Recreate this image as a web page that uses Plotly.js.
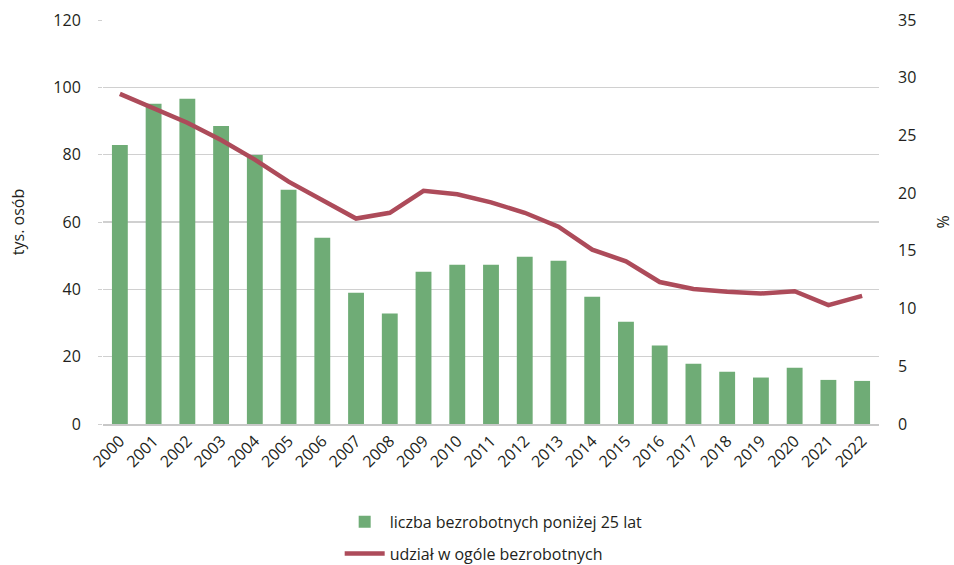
<!DOCTYPE html>
<html>
<head>
<meta charset="utf-8">
<script src="https://cdn.plot.ly/plotly-3.0.1.min.js"></script>
<style>
  html, body { margin: 0; padding: 0; background: #fff; }
  #chart { width: 954px; height: 565px; }
</style>
</head>
<body>
<div id="chart"></div>
<script>
// Bezrobotni poniżej 25 lat: liczba (tys. osób) i udział w ogóle bezrobotnych (%)
const years = ['2000','2001','2002','2003','2004','2005','2006','2007','2008','2009','2010',
               '2011','2012','2013','2014','2015','2016','2017','2018','2019','2020','2021','2022'];

const unemployedUnder25 = [82.9, 95.1, 96.6, 88.5, 79.9, 69.6, 55.3, 39.0, 32.8, 45.2, 47.3,
                           47.3, 49.7, 48.5, 37.8, 30.4, 23.3, 17.9, 15.5, 13.8, 16.7, 13.1, 12.8];

const shareOfTotal = [28.6, 27.4, 26.1, 24.6, 22.9, 21.0, 19.4, 17.8, 18.3, 20.2, 19.9,
                      19.2, 18.3, 17.1, 15.1, 14.1, 12.3, 11.7, 11.45, 11.3, 11.5, 10.3, 11.1];

const GREEN = '#6fac76';
const RED = '#ad4b5a';
const FONT = '"Open Sans", "Noto Sans", sans-serif';

const bars = {
  x: years,
  y: unemployedUnder25,
  type: 'bar',
  name: 'liczba bezrobotnych poniżej 25 lat',
  marker: { color: GREEN },
  legendgroup: 'a',
  yaxis: 'y'
};

const line = {
  x: years,
  y: shareOfTotal,
  type: 'scatter',
  mode: 'lines',
  name: 'udział w ogóle bezrobotnych',
  line: { color: RED, width: 4.5 },
  legendgroup: 'b',
  yaxis: 'y2'
};

const layout = {
  width: 954,
  height: 565,
  margin: { l: 103, r: 75, t: 20, b: 141, autoexpand: false },
  paper_bgcolor: '#fff',
  plot_bgcolor: '#fff',
  font: { family: FONT, size: 16, color: '#231f20' },
  bargap: 0.53,
  showlegend: true,
  legend: {
    orientation: 'v',
    x: 0.305,
    xanchor: 'left',
    y: -0.2,
    yanchor: 'top',
    tracegroupgap: 8,
    font: { size: 16 },
    itemwidth: 40
  },
  xaxis: {
    type: 'category',
    tickangle: -45,
    showgrid: false,
    showline: true,
    linecolor: '#c8c8c8',
    linewidth: 1.5,
    ticks: '',
    tickfont: { size: 16 }
  },
  yaxis: {
    range: [0, 120],
    dtick: 20,
    showgrid: true,
    gridcolor: '#d0d0d0',
    gridwidth: 1.5,
    zeroline: false,
    ticks: 'outside',
    ticklen: 4,
    tickcolor: '#d0d0d0',
    ticklabelstandoff: 14,
    title: { text: 'tys. osób', standoff: 24, font: { size: 16 } }
  },
  yaxis2: {
    overlaying: 'y',
    side: 'right',
    range: [0, 35],
    dtick: 5,
    showgrid: false,
    zeroline: false,
    ticks: '',
    ticklabelstandoff: 18,
    title: { text: '%', standoff: 31, font: { size: 16 } }
  }
};

Plotly.newPlot('chart', [bars, line], layout, { displayModeBar: false, staticPlot: true });
</script>
</body>
</html>
